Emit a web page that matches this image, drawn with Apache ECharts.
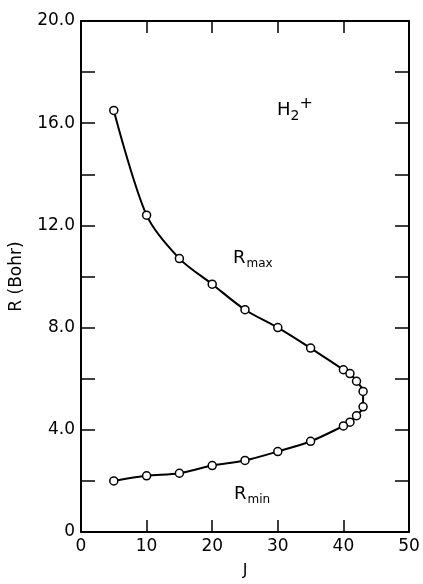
<!DOCTYPE html>
<html>
<head>
<meta charset="utf-8">
<script src="https://cdn.jsdelivr.net/npm/echarts@6/dist/echarts.min.js"></script>
<style>
  html, body { margin: 0; padding: 0; background: #fff; }
  #chart { width: 423px; height: 584px; }
</style>
</head>
<body>
<div id="chart"></div>
<script>
// upper branch (R max), J going up
var jMax = [5, 10, 15, 20, 25, 30, 35, 40, 41, 42, 43]
var rMax = [16.5, 12.4, 10.7, 9.7, 8.7, 8.0, 7.2, 6.35, 6.2, 5.9, 5.5]
// lower branch (R min), J going back down
var jMin = [43, 42, 41, 40, 35, 30, 25, 20, 15, 10, 5]
var rMin = [4.9, 4.55, 4.3, 4.15, 3.55, 3.15, 2.8, 2.6, 2.3, 2.2, 2.0]

var yTicks = [0, 4, 8, 12, 16, 20]

var pts = []
for (var i = 0; i < jMax.length; i++) pts.push([jMax[i], rMax[i]])
for (var k = 0; k < jMin.length; k++) pts.push([jMin[k], rMin[k]])

var FONT = 'DejaVu Sans'
var chart = echarts.init(document.getElementById('chart'))

var lineStyle = { color: '#000', width: 2 }
var tickStyle = { color: '#000', width: 1.5 }

chart.setOption({
  backgroundColor: '#fff',
  animation: false,
  grid: { left: 81, right: 14, top: 21, bottom: 47 },
  xAxis: [{
    type: 'value', min: 0, max: 50, interval: 10,
    name: 'J', nameLocation: 'middle', nameGap: 31,
    nameTextStyle: { color: '#000', fontSize: 16, fontFamily: FONT },
    axisLine: { onZero: false, lineStyle: lineStyle },
    axisTick: { inside: true, length: 12, lineStyle: tickStyle },
    axisLabel: { color: '#000', fontSize: 17, fontFamily: FONT, margin: 6 },
    splitLine: { show: false }
  }, {
    type: 'value', min: 0, max: 50, interval: 10, position: 'top',
    axisLine: { onZero: false, lineStyle: lineStyle },
    axisTick: { inside: true, length: 12, lineStyle: tickStyle },
    axisLabel: { show: false },
    splitLine: { show: false }
  }],
  yAxis: [{
    type: 'value', min: 0, max: 20, interval: 2,
    name: 'R (Bohr)', nameLocation: 'middle', nameGap: 56,
    nameTextStyle: { color: '#000', fontSize: 17, fontFamily: FONT },
    axisLine: { onZero: false, lineStyle: lineStyle },
    axisTick: { inside: true, length: 14, lineStyle: tickStyle },
    axisLabel: {
      color: '#000', fontSize: 17, fontFamily: FONT, margin: 6,
      formatter: function (v) {
        if (yTicks.indexOf(v) < 0) return ''
        return v === 0 ? '0' : v.toFixed(1)
      }
    },
    splitLine: { show: false }
  }, {
    type: 'value', min: 0, max: 20, interval: 2, position: 'right',
    axisLine: { onZero: false, lineStyle: lineStyle },
    axisTick: { inside: true, length: 14, lineStyle: tickStyle },
    axisLabel: { show: false },
    splitLine: { show: false }
  }],
  graphic: [{
    type: 'text', left: 277, top: 96,
    style: {
      text: '{b|H}{s|2}{p|+}',
      rich: {
        b: { fontSize: 18, fontFamily: FONT, fill: '#000' },
        s: { fontSize: 14, fontFamily: FONT, fill: '#000', padding: [12, 0, 0, 0] },
        p: { fontSize: 16, fontFamily: FONT, fill: '#000', padding: [0, 0, 12, 0] }
      }
    }
  }, {
    type: 'text', left: 233, top: 249,
    style: {
      text: '{b|R}{s|max}',
      rich: {
        b: { fontSize: 18, fontFamily: FONT, fill: '#000' },
        s: { fontSize: 12, fontFamily: FONT, fill: '#000', padding: [11, 0, 0, 1] }
      }
    }
  }, {
    type: 'text', left: 234, top: 485,
    style: {
      text: '{b|R}{s|min}',
      rich: {
        b: { fontSize: 18, fontFamily: FONT, fill: '#000' },
        s: { fontSize: 12, fontFamily: FONT, fill: '#000', padding: [11, 0, 0, 1] }
      }
    }
  }],
  series: [{
    type: 'line',
    data: pts,
    smooth: 0.3,
    symbol: 'circle',
    symbolSize: 8,
    showAllSymbol: true,
    lineStyle: { color: '#000', width: 2 },
    itemStyle: { color: '#fff', borderColor: '#000', borderWidth: 1.5 },
    z: 3
  }]
})
</script>
</body>
</html>
